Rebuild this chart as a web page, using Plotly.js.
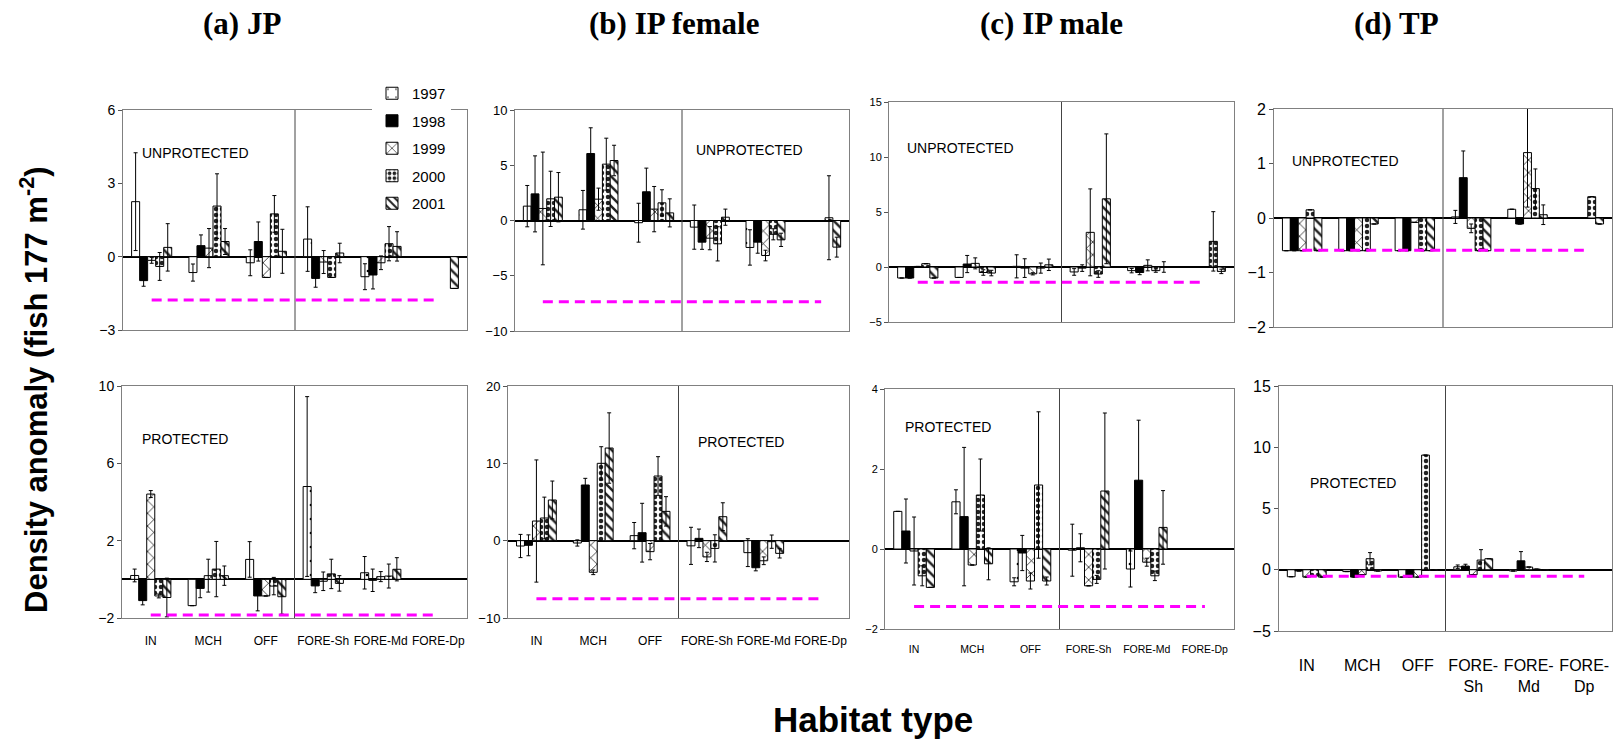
<!DOCTYPE html>
<html><head><meta charset="utf-8">
<script src="https://cdn.plot.ly/plotly-3.0.1.min.js"></script>
<style>html,body{margin:0;padding:0;background:#fff}#chart{width:1613px;height:739px}</style>
</head><body><div id="chart"></div>
<script>
// ---------------- DATA ----------------
const habitats = ['IN', 'MCH', 'OFF', 'FORE-Sh', 'FORE-Md', 'FORE-Dp'];
const habitatTickTextTP = ['IN', 'MCH', 'OFF', 'FORE-<br>Sh', 'FORE-<br>Md', 'FORE-<br>Dp'];
const years = ['1997', '1998', '1999', '2000', '2001'];

// (a) JP – unprotected: rows = years, columns = habitats
const jpUnprotMean = [
  [2.25, -0.65, -0.25, 0.72, -0.82, null],
  [-0.98, 0.45, 0.62, -0.89, -0.75, null],
  [-0.15, 0.35, -0.85, -0.22, -0.25, null],
  [-0.40, 2.07, 1.75, -0.85, 0.53, null],
  [0.38, 0.62, 0.22, 0.15, 0.42, -1.30]
];
const jpUnprotErr = [
  [2.0, 0.35, 0.53, 1.32, 0.53, null],
  [0.23, 0.44, 0.80, 0.36, 0.57, null],
  [0.12, 0.80, 0, 0.47, 0.28, null],
  [0.57, 1.32, 0.75, 0, 0.70, null],
  [0.97, 0.53, 0.90, 0.40, 0.60, 0]
];
const jpProtMean = [
  [0.20, -1.36, 1.03, 4.80, 0.34, null],
  [-1.10, -0.47, -0.86, -0.34, -0.05, null],
  [4.41, 0.19, -0.86, -0.10, 0.14, null],
  [-0.86, 0.53, -0.35, 0.28, 0.17, null],
  [-0.94, 0.19, -0.90, -0.21, 0.52, null]
];
const jpProtErr = [
  [0.33, 0, 0.92, 4.65, 0.84, null],
  [0.22, 0.48, 0.77, 0.35, 0.58, null],
  [0.18, 0.85, 0, 0.48, 0.26, null],
  [0.10, 1.43, 0.45, 0.76, 0.62, null],
  [1.0, 0.50, 0.90, 0.40, 0.60, null]
];

// (b) IP female
const ipfUnprotMean = [
  [1.30, 0.97, -0.20, -0.60, -2.44, null],
  [2.41, 6.06, 2.60, -1.96, -1.96, null],
  [1.09, 1.93, 1.03, -1.60, -3.17, null],
  [1.96, 5.10, 1.60, -2.11, -1.25, 0.25],
  [2.11, 5.43, 0.69, 0.30, -1.75, -2.41]
];
const ipfUnprotErr = [
  [1.87, 1.75, 1.76, 2.0, 1.60, null],
  [3.44, 2.33, 2.14, 0.65, 1.0, null],
  [5.10, 1.0, 2.05, 1.05, 0.48, null],
  [2.50, 2.35, 1.18, 1.55, 0.50, 3.80],
  [2.23, 1.38, 1.27, 0.73, 0.60, 0.90]
];
const ipfProtMean = [
  [-0.69, -0.30, 0.65, -0.67, -1.55, null],
  [-0.60, 7.20, 1.03, 0.30, -3.50, null],
  [2.54, -4.09, -1.42, -2.10, -2.60, null],
  [2.93, 10.0, 8.36, -1.0, -0.13, null],
  [5.26, 11.98, 3.79, 3.10, -1.64, null]
];
const ipfProtErr = [
  [1.50, 0.40, 1.70, 2.40, 1.80, null],
  [1.35, 0.86, 3.80, 1.20, 0.40, null],
  [7.90, 0.30, 1.05, 0.60, 0.50, null],
  [2.70, 2.15, 2.50, 1.76, 0.86, null],
  [2.45, 4.55, 1.90, 1.80, 0.60, null]
];

// (c) IP male
const ipmUnprotMean = [
  [-1.0, -0.95, 0.06, -0.45, -0.33, null],
  [-1.0, 0.27, -0.10, -0.10, -0.50, null],
  [0.05, 0.33, -0.62, 3.15, 0.15, null],
  [0.30, -0.50, -0.10, -0.64, -0.33, 2.33],
  [-1.0, -0.55, 0.20, 6.20, 0.0, -0.40]
];
const ipmUnprotErr = [
  [0, 0, 1.05, 0.30, 0.20, null],
  [0, 0.78, 0.85, 0.30, 0.20, null],
  [0, 0.50, 0.10, 3.95, 0.50, null],
  [0, 0.25, 0.46, 0.30, 0.15, 2.70],
  [0, 0.25, 0.52, 5.90, 0.48, 0.20]
];
const ipmProtMean = [
  [0.94, 1.18, -0.82, -0.03, -0.50, null],
  [0.45, 0.81, -0.10, 0.03, 1.72, null],
  [-0.05, -0.40, -0.80, -0.92, -0.33, null],
  [-0.67, 1.35, 1.60, -0.76, -0.67, null],
  [-0.96, -0.37, -0.80, 1.45, 0.54, null]
];
const ipmProtErr = [
  [0, 0.30, 0.10, 0.65, 0.45, null],
  [0.80, 1.73, 0.44, 0.35, 1.50, null],
  [0.85, 0, 0.20, 0, 0.10, null],
  [0.25, 0.90, 1.83, 0.10, 0.12, null],
  [0, 0.40, 0.10, 1.95, 0.92, null]
];

// (d) TP
const tpUnprotMean = [
  [-0.60, -0.60, -0.60, 0.02, 0.16, null],
  [-0.60, -0.60, -0.60, 0.74, -0.11, null],
  [-0.60, -0.60, -0.08, -0.19, 1.20, null],
  [0.15, -0.60, -0.60, -0.60, 0.54, 0.39],
  [-0.60, -0.11, -0.60, -0.60, 0.06, -0.11]
];
const tpUnprotErr = [
  [0, 0, 0, 0.12, 0, null],
  [0, 0, 0, 0.49, 0, null],
  [0, 0, 0, 0.08, 1.0, null],
  [0, 0, 0, 0, 0.36, 0],
  [0, 0, 0, 0, 0.18, 0]
];
const tpProtMean = [
  [-0.57, -0.15, -0.60, 0.24, -0.10, null],
  [-0.10, -0.60, -0.60, 0.30, 0.73, null],
  [-0.60, -0.40, -0.60, -0.40, 0.22, null],
  [-0.50, 0.90, 9.36, 0.79, 0.05, null],
  [-0.60, -0.10, -0.05, 0.90, -0.05, null]
];
const tpProtErr = [
  [0, 0, 0, 0.15, 0, null],
  [0, 0, 0, 0.15, 0.75, null],
  [0, 0, 0, 0, 0, null],
  [0, 0.50, 0, 0.85, 0, null],
  [0, 0, 0, 0, 0, null]
];

// magenta dashed reference levels (top row, bottom row)
const thresholdUnprot = [-1.77, -7.36, -1.39, -0.59];
const thresholdProt = [-1.84, -7.50, -1.44, -0.54];

const panelTitles = ['(a) JP', '(b) IP female', '(c) IP male', '(d) TP'];

// ---------------- LAYOUT / STYLE ----------------
const W = 1613, H = 739;
const FONT = 'Liberation Sans, Arial, sans-serif';

const yearStyles = [
  {color: '#ffffff', pattern: {shape: '.', fgcolor: '#000', bgcolor: '#fff', size: 14, solidity: 0.03}},
  {color: '#000000', pattern: {shape: ''}},
  {color: '#ffffff', pattern: {shape: 'x', fgcolor: '#000', bgcolor: '#fff', size: 9, solidity: 0.15}},
  {color: '#ffffff', pattern: {shape: '.', fgcolor: '#222', bgcolor: '#fff', size: 6, solidity: 0.45}},
  {color: '#ffffff', pattern: {shape: '\\', fgcolor: '#222', bgcolor: '#fff', size: 7, solidity: 0.35}}
];

// panel boxes in pixels: [left, right, top, bottom]
const panels = [
  {mean: jpUnprotMean, err: jpUnprotErr, thr: thresholdUnprot[0], box: [123, 467, 110, 330], range: [-3, 6], tv: [-3, 0, 3, 6], yfs: 14, label: 'UNPROTECTED', lp: [195, 153], bottom: false},
  {mean: ipfUnprotMean, err: ipfUnprotErr, thr: thresholdUnprot[1], box: [515, 849, 110, 331], range: [-10, 10], tv: [-10, -5, 0, 5, 10], yfs: 13, label: 'UNPROTECTED', lp: [749, 150], bottom: false},
  {mean: ipmUnprotMean, err: ipmUnprotErr, thr: thresholdUnprot[2], box: [889, 1234, 102, 322], range: [-5, 15], tv: [-5, 0, 5, 10, 15], yfs: 11, label: 'UNPROTECTED', lp: [960, 148], bottom: false},
  {mean: tpUnprotMean, err: tpUnprotErr, thr: thresholdUnprot[3], box: [1274, 1612, 109, 327], range: [-2, 2], tv: [-2, -1, 0, 1, 2], yfs: 16, label: 'UNPROTECTED', lp: [1345, 161], bottom: false},
  {mean: jpProtMean, err: jpProtErr, thr: thresholdProt[0], box: [122, 467, 386, 618], range: [-2, 10], tv: [-2, 2, 6, 10], yfs: 14, label: 'PROTECTED', lp: [185, 439], bottom: true, xfs: 12, so: 12},
  {mean: ipfProtMean, err: ipfProtErr, thr: thresholdProt[1], box: [508, 849, 386, 618], range: [-10, 20], tv: [-10, 0, 10, 20], yfs: 13, label: 'PROTECTED', lp: [741, 442], bottom: true, xfs: 12, so: 12},
  {mean: ipmProtMean, err: ipmProtErr, thr: thresholdProt[2], box: [885, 1234, 389, 629], range: [-2, 4], tv: [-2, 0, 2, 4], yfs: 11, label: 'PROTECTED', lp: [948, 427], bottom: true, xfs: 10.5, so: 10},
  {mean: tpProtMean, err: tpProtErr, thr: thresholdProt[3], box: [1279, 1612, 386, 631], range: [-5, 15], tv: [-5, 0, 5, 10, 15], yfs: 16, label: 'PROTECTED', lp: [1353, 483], bottom: true, xfs: 16, so: 20, twoLine: true}
];

const data = [];
const layout = {
  width: W, height: H,
  margin: {l: 0, r: 0, t: 0, b: 0},
  paper_bgcolor: '#fff', plot_bgcolor: '#fff',
  barmode: 'group', bargap: 0.3, bargroupgap: 0,
  font: {family: FONT, color: '#000'},
  showlegend: true,
  legend: {
    x: 372 / W, y: 1 - 77 / H, xanchor: 'left', yanchor: 'top',
    bgcolor: '#fff', borderwidth: 0,
    font: {family: FONT, size: 15, color: '#000'},
    traceorder: 'grouped', tracegroupgap: 5, itemwidth: 30
  },
  shapes: [], annotations: []
};

panels.forEach((p, i) => {
  const n = i + 1;
  const xs = n === 1 ? '' : String(n);
  years.forEach((yr, k) => {
    data.push({
      type: 'bar', name: yr, legendgroup: yr, showlegend: i === 0,
      x: habitats, y: p.mean[k],
      xaxis: 'x' + xs, yaxis: 'y' + xs,
      marker: {color: yearStyles[k].color, line: {color: '#000', width: 1}, pattern: yearStyles[k].pattern},
      error_y: {type: 'data', array: p.err[k], visible: true, color: '#000', thickness: 1, width: 2},
      hoverinfo: 'name+x+y'
    });
  });
  const [l, r, t, b] = p.box;
  layout['xaxis' + xs] = {
    domain: [l / W, r / W], anchor: 'y' + xs,
    type: 'category', categoryorder: 'array', categoryarray: habitats,
    range: [-0.5, habitats.length - 0.5],
    showline: true, mirror: true, linecolor: '#808080', linewidth: 1,
    showgrid: false, zeroline: false, ticks: '',
    showticklabels: p.bottom,
    tickmode: 'array', tickvals: habitats,
    ticktext: p.twoLine ? habitatTickTextTP : habitats,
    tickfont: {family: FONT, size: p.xfs || 12, color: '#000'},
    ticklabelstandoff: p.so || 0,
    fixedrange: true
  };
  layout['yaxis' + xs] = {
    domain: [1 - b / H, 1 - t / H], anchor: 'x' + xs,
    range: p.range, tickmode: 'array', tickvals: p.tv,
    showline: true, mirror: true, linecolor: '#808080', linewidth: 1,
    ticks: 'outside', ticklen: 4, tickcolor: '#555',
    showgrid: false, zeroline: true, zerolinecolor: '#000', zerolinewidth: 2,
    tickfont: {family: FONT, size: p.yfs, color: '#000'},
    fixedrange: true
  };
  // divider between lagoon and fore-reef habitats
  layout.shapes.push({
    type: 'line', xref: 'x' + xs, yref: 'y' + xs + ' domain',
    x0: 2.5, x1: 2.5, y0: 0, y1: 1,
    line: {color: '#444', width: 1}, layer: 'above'
  });
  // magenta dashed level
  layout.shapes.push({
    type: 'line', xref: 'x' + xs, yref: 'y' + xs,
    x0: 0, x1: habitats.length - 1, y0: p.thr, y1: p.thr,
    line: {color: '#ff00ff', width: 3, dash: '10px,6px'}, layer: 'above'
  });
  layout.annotations.push({
    xref: 'paper', yref: 'paper', x: p.lp[0] / W, y: 1 - p.lp[1] / H,
    xanchor: 'center', yanchor: 'middle', showarrow: false,
    text: p.label, font: {family: FONT, size: 14, color: '#000'}
  });
});

const titleX = [242, 674, 1051, 1396];
panelTitles.forEach((t, i) => {
  layout.annotations.push({
    xref: 'paper', yref: 'paper', x: titleX[i] / W, y: 1 - 24 / H,
    xanchor: 'center', yanchor: 'middle', showarrow: false,
    text: '<b>' + t + '</b>',
    font: {family: 'Liberation Serif, Times New Roman, serif', size: 31, color: '#000'}
  });
});

layout.annotations.push({
  xref: 'paper', yref: 'paper', x: 34 / W, y: 1 - 390 / H,
  xanchor: 'center', yanchor: 'middle', showarrow: false, textangle: -90,
  text: '<b>Density anomaly (fish 177 m<sup>-2</sup>)</b>',
  font: {family: FONT, size: 31, color: '#000'}
});
layout.annotations.push({
  xref: 'paper', yref: 'paper', x: 873 / W, y: 1 - 719 / H,
  xanchor: 'center', yanchor: 'middle', showarrow: false,
  text: '<b>Habitat type</b>',
  font: {family: FONT, size: 35, color: '#000'}
});

Plotly.newPlot('chart', data, layout, {displayModeBar: false, staticPlot: true});
</script>
</body></html>
